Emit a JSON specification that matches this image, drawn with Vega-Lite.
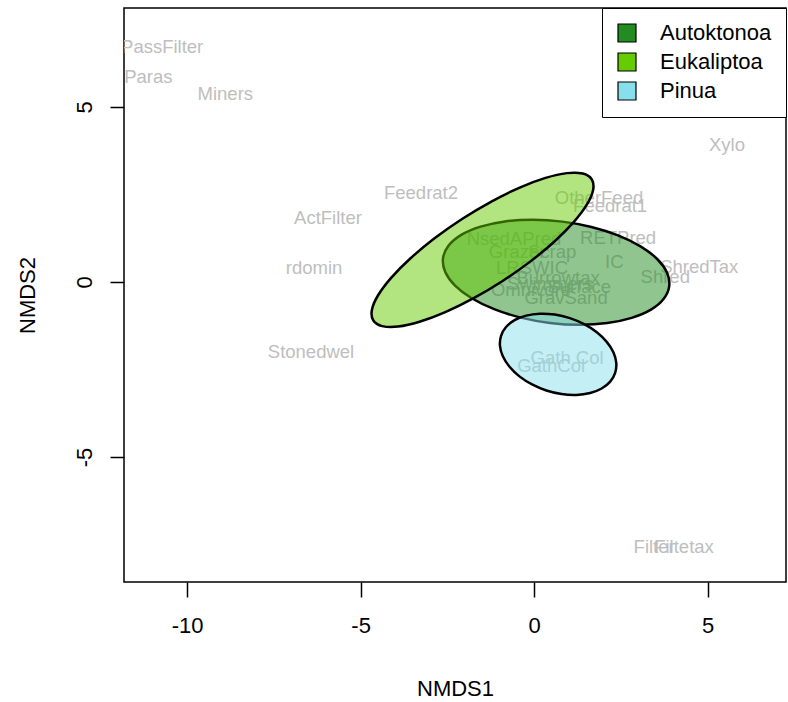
{
  "$schema": "https://vega.github.io/schema/vega-lite/v6.json",
  "width": 662,
  "height": 574,
  "autosize": {"type": "none"},
  "padding": {"left": 124, "top": 8, "right": 2, "bottom": 120},
  "background": "white",
  "config": {
    "view": {"stroke": "black", "strokeWidth": 1.5},
    "font": "Liberation Sans"
  },
  "datasets": {
    "labels": [
      {"label": "PassFilter", "x": -10.72, "y": 6.70},
      {"label": "Paras", "x": -11.12, "y": 5.85},
      {"label": "Miners", "x": -8.90, "y": 5.36},
      {"label": "Xylo", "x": 5.56, "y": 3.90},
      {"label": "Feedrat2", "x": -3.26, "y": 2.53},
      {"label": "ActFilter", "x": -5.94, "y": 1.82},
      {"label": "rdomin", "x": -6.34, "y": 0.39},
      {"label": "Stonedwel", "x": -6.43, "y": -2.01},
      {"label": "OtherFeed", "x": 1.87, "y": 2.39},
      {"label": "Feedrat1", "x": 2.19, "y": 2.16},
      {"label": "RETPred", "x": 2.42, "y": 1.25},
      {"label": "IC", "x": 2.31, "y": 0.56},
      {"label": "ShredTax", "x": 4.76, "y": 0.42},
      {"label": "Shred", "x": 3.78, "y": 0.13},
      {"label": "NsedAPred", "x": -0.58, "y": 1.22},
      {"label": "Grazer", "x": -0.49, "y": 0.85},
      {"label": "Scrap", "x": 0.52, "y": 0.85},
      {"label": "LRSWIC", "x": -0.06, "y": 0.39},
      {"label": "Omnivore", "x": -0.09, "y": -0.24},
      {"label": "Burrowtax", "x": 0.69, "y": 0.10},
      {"label": "Surface", "x": 1.30, "y": -0.15},
      {"label": "GravSand", "x": 0.92, "y": -0.47},
      {"label": "Swimmers", "x": 0.46, "y": -0.07},
      {"label": "Gath Col", "x": 0.95, "y": -2.18},
      {"label": "GathCol", "x": 0.49, "y": -2.41},
      {"label": "Filter", "x": 3.46, "y": -7.58},
      {"label": "Filtetax", "x": 4.32, "y": -7.58}
    ],
    "ellipses": [
      {"g": "Autoktonoa", "i": 0, "x": 3.894, "y": -0.123},
      {"g": "Autoktonoa", "i": 1, "x": 3.737, "y": -0.483},
      {"g": "Autoktonoa", "i": 2, "x": 3.368, "y": -0.793},
      {"g": "Autoktonoa", "i": 3, "x": 2.812, "y": -1.029},
      {"g": "Autoktonoa", "i": 4, "x": 2.109, "y": -1.177},
      {"g": "Autoktonoa", "i": 5, "x": 1.305, "y": -1.226},
      {"g": "Autoktonoa", "i": 6, "x": 0.455, "y": -1.172},
      {"g": "Autoktonoa", "i": 7, "x": -0.383, "y": -1.020},
      {"g": "Autoktonoa", "i": 8, "x": -1.151, "y": -0.779},
      {"g": "Autoktonoa", "i": 9, "x": -1.798, "y": -0.467},
      {"g": "Autoktonoa", "i": 10, "x": -2.279, "y": -0.105},
      {"g": "Autoktonoa", "i": 11, "x": -2.561, "y": 0.283},
      {"g": "Autoktonoa", "i": 12, "x": -2.626, "y": 0.671},
      {"g": "Autoktonoa", "i": 13, "x": -2.469, "y": 1.031},
      {"g": "Autoktonoa", "i": 14, "x": -2.100, "y": 1.341},
      {"g": "Autoktonoa", "i": 15, "x": -1.544, "y": 1.577},
      {"g": "Autoktonoa", "i": 16, "x": -0.841, "y": 1.725},
      {"g": "Autoktonoa", "i": 17, "x": -0.037, "y": 1.774},
      {"g": "Autoktonoa", "i": 18, "x": 0.813, "y": 1.720},
      {"g": "Autoktonoa", "i": 19, "x": 1.651, "y": 1.568},
      {"g": "Autoktonoa", "i": 20, "x": 2.419, "y": 1.327},
      {"g": "Autoktonoa", "i": 21, "x": 3.066, "y": 1.015},
      {"g": "Autoktonoa", "i": 22, "x": 3.547, "y": 0.653},
      {"g": "Autoktonoa", "i": 23, "x": 3.829, "y": 0.265},
      {"g": "Eukaliptoa", "i": 0, "x": 1.659, "y": 2.931},
      {"g": "Eukaliptoa", "i": 1, "x": 1.702, "y": 2.632},
      {"g": "Eukaliptoa", "i": 2, "x": 1.527, "y": 2.217},
      {"g": "Eukaliptoa", "i": 3, "x": 1.147, "y": 1.712},
      {"g": "Eukaliptoa", "i": 4, "x": 0.587, "y": 1.154},
      {"g": "Eukaliptoa", "i": 5, "x": -0.114, "y": 0.578},
      {"g": "Eukaliptoa", "i": 6, "x": -0.908, "y": 0.026},
      {"g": "Eukaliptoa", "i": 7, "x": -1.742, "y": -0.466},
      {"g": "Eukaliptoa", "i": 8, "x": -2.559, "y": -0.864},
      {"g": "Eukaliptoa", "i": 9, "x": -3.303, "y": -1.140},
      {"g": "Eukaliptoa", "i": 10, "x": -3.921, "y": -1.277},
      {"g": "Eukaliptoa", "i": 11, "x": -4.376, "y": -1.264},
      {"g": "Eukaliptoa", "i": 12, "x": -4.633, "y": -1.103},
      {"g": "Eukaliptoa", "i": 13, "x": -4.676, "y": -0.804},
      {"g": "Eukaliptoa", "i": 14, "x": -4.501, "y": -0.389},
      {"g": "Eukaliptoa", "i": 15, "x": -4.121, "y": 0.116},
      {"g": "Eukaliptoa", "i": 16, "x": -3.561, "y": 0.674},
      {"g": "Eukaliptoa", "i": 17, "x": -2.860, "y": 1.250},
      {"g": "Eukaliptoa", "i": 18, "x": -2.066, "y": 1.802},
      {"g": "Eukaliptoa", "i": 19, "x": -1.232, "y": 2.294},
      {"g": "Eukaliptoa", "i": 20, "x": -0.415, "y": 2.692},
      {"g": "Eukaliptoa", "i": 21, "x": 0.329, "y": 2.968},
      {"g": "Eukaliptoa", "i": 22, "x": 0.947, "y": 3.105},
      {"g": "Eukaliptoa", "i": 23, "x": 1.402, "y": 3.092},
      {"g": "Pinua", "i": 0, "x": 2.336, "y": -2.599},
      {"g": "Pinua", "i": 1, "x": 2.193, "y": -2.848},
      {"g": "Pinua", "i": 2, "x": 1.947, "y": -3.045},
      {"g": "Pinua", "i": 3, "x": 1.615, "y": -3.174},
      {"g": "Pinua", "i": 4, "x": 1.221, "y": -3.229},
      {"g": "Pinua", "i": 5, "x": 0.791, "y": -3.204},
      {"g": "Pinua", "i": 6, "x": 0.354, "y": -3.102},
      {"g": "Pinua", "i": 7, "x": -0.059, "y": -2.930},
      {"g": "Pinua", "i": 8, "x": -0.423, "y": -2.699},
      {"g": "Pinua", "i": 9, "x": -0.709, "y": -2.424},
      {"g": "Pinua", "i": 10, "x": -0.901, "y": -2.127},
      {"g": "Pinua", "i": 11, "x": -0.984, "y": -1.824},
      {"g": "Pinua", "i": 12, "x": -0.952, "y": -1.539},
      {"g": "Pinua", "i": 13, "x": -0.809, "y": -1.290},
      {"g": "Pinua", "i": 14, "x": -0.563, "y": -1.093},
      {"g": "Pinua", "i": 15, "x": -0.231, "y": -0.964},
      {"g": "Pinua", "i": 16, "x": 0.163, "y": -0.909},
      {"g": "Pinua", "i": 17, "x": 0.593, "y": -0.934},
      {"g": "Pinua", "i": 18, "x": 1.030, "y": -1.036},
      {"g": "Pinua", "i": 19, "x": 1.443, "y": -1.208},
      {"g": "Pinua", "i": 20, "x": 1.807, "y": -1.439},
      {"g": "Pinua", "i": 21, "x": 2.093, "y": -1.714},
      {"g": "Pinua", "i": 22, "x": 2.285, "y": -2.011},
      {"g": "Pinua", "i": 23, "x": 2.368, "y": -2.314}
    ]
  },
  "encoding": {
    "x": {
      "field": "x", "type": "quantitative",
      "scale": {"domain": [-11.82, 7.26], "nice": false, "zero": false},
      "axis": {
        "title": "NMDS1", "values": [-10, -5, 0, 5], "grid": false, "domain": false,
        "labelExpr": "'' + datum.value",
        "tickSize": 15, "tickColor": "black", "tickWidth": 1.5,
        "labelFontSize": 22, "labelColor": "black", "labelPadding": 18, "labelFont": "Liberation Sans",
        "titleFontSize": 22, "titleFont": "Liberation Sans", "titleFontWeight": "normal", "titleColor": "black", "titlePadding": 42
      }
    },
    "y": {
      "field": "y", "type": "quantitative",
      "scale": {"domain": [-8.57, 7.82], "nice": false, "zero": false},
      "axis": {
        "title": "NMDS2", "values": [-5, 0, 5], "grid": false, "domain": false,
        "labelExpr": "'' + datum.value",
        "tickSize": 14, "tickColor": "black", "tickWidth": 1.5,
        "labelAngle": -90, "labelAlign": "center", "labelBaseline": "bottom",
        "labelFontSize": 22, "labelColor": "black", "labelPadding": 14, "labelFont": "Liberation Sans",
        "titleFontSize": 22, "titleFont": "Liberation Sans", "titleFontWeight": "normal", "titleColor": "black", "titlePadding": 34
      }
    }
  },
  "layer": [
    {
      "data": {"name": "labels"},
      "mark": {"type": "text", "clip": true, "fontSize": 18.5, "font": "Liberation Sans", "color": "#bebebe", "align": "center", "baseline": "middle"},
      "encoding": {"text": {"field": "label", "type": "nominal"}}
    },
    {
      "data": {"name": "ellipses"},
      "transform": [{"filter": "datum.g === 'Autoktonoa'"}],
      "mark": {"type": "line", "interpolate": "cardinal-closed", "fillOpacity": 0.5, "stroke": "black", "strokeWidth": 2.5},
      "encoding": {
        "order": {"field": "i", "type": "quantitative"},
        "fill": {
          "field": "g", "type": "nominal",
          "scale": {"domain": ["Autoktonoa", "Eukaliptoa", "Pinua"], "range": ["#228B22", "#66CC00", "#87DFEB"]},
          "legend": {
            "title": null, "orient": "top-right", "offset": 0, "padding": 14,
            "strokeColor": "black", "fillColor": "white",
            "symbolType": "square", "symbolSize": 324, "symbolStrokeColor": "black", "symbolStrokeWidth": 1.2, "symbolOpacity": 1,
            "labelFontSize": 22, "labelFont": "Liberation Sans", "labelColor": "black", "labelOffset": 22, "rowPadding": 5
          }
        }
      }
    },
    {
      "data": {"name": "ellipses"},
      "transform": [{"filter": "datum.g === 'Eukaliptoa'"}],
      "mark": {"type": "line", "interpolate": "cardinal-closed", "fillOpacity": 0.5, "stroke": "black", "strokeWidth": 2.5},
      "encoding": {
        "order": {"field": "i", "type": "quantitative"},
        "fill": {"field": "g", "type": "nominal"}
      }
    },
    {
      "data": {"name": "ellipses"},
      "transform": [{"filter": "datum.g === 'Pinua'"}],
      "mark": {"type": "line", "interpolate": "cardinal-closed", "fillOpacity": 0.5, "stroke": "black", "strokeWidth": 2.5},
      "encoding": {
        "order": {"field": "i", "type": "quantitative"},
        "fill": {"field": "g", "type": "nominal"}
      }
    }
  ]
}
